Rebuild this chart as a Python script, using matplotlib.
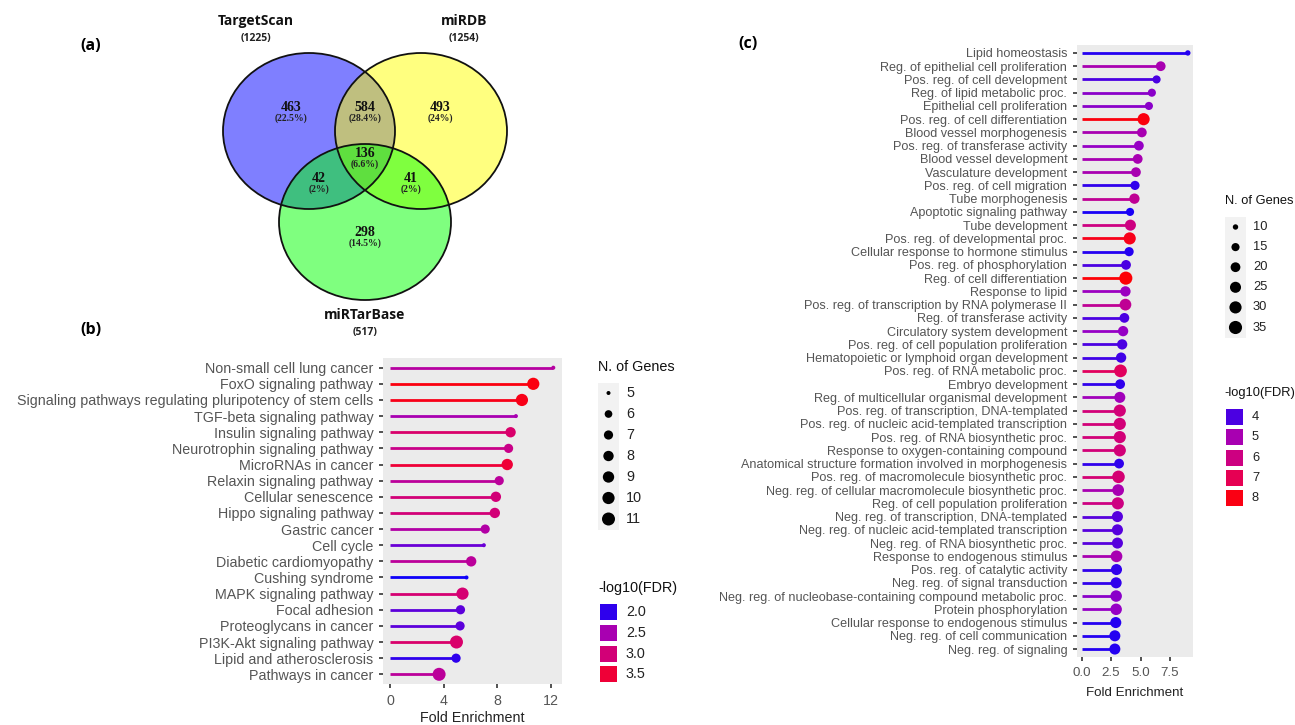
import numpy as np
import matplotlib
matplotlib.use("Agg")
import matplotlib.pyplot as plt
from matplotlib.colors import LinearSegmentedColormap, Normalize
from matplotlib.patches import Ellipse, Rectangle

plt.rcParams["font.family"] = ["Liberation Sans", "DejaVu Sans"]

# ---- data: (a) Venn --------------------------------------------------------
venn_sets = ["TargetScan", "miRDB", "miRTarBase"]
venn_totals = [1225, 1254, 517]
# regions: TS only, TS&DB, DB only, all, TS&TB, DB&TB, TB only
venn_counts = [463, 584, 493, 136, 42, 41, 298]
venn_pct = ["22.5%", "28.4%", "24%", "6.6%", "2%", "2%", "14.5%"]

# ---- data: (b) KEGG pathways -----------------------------------------------
kegg_terms = [
    "Non-small cell lung cancer", "FoxO signaling pathway",
    "Signaling pathways regulating pluripotency of stem cells",
    "TGF-beta signaling pathway", "Insulin signaling pathway",
    "Neurotrophin signaling pathway", "MicroRNAs in cancer",
    "Relaxin signaling pathway", "Cellular senescence", "Hippo signaling pathway",
    "Gastric cancer", "Cell cycle", "Diabetic cardiomyopathy", "Cushing syndrome",
    "MAPK signaling pathway", "Focal adhesion", "Proteoglycans in cancer",
    "PI3K-Akt signaling pathway", "Lipid and atherosclerosis", "Pathways in cancer",
]
kegg_fold = [12.2, 10.7, 9.85, 9.4, 9.0, 8.85, 8.75, 8.15, 7.9, 7.82,
             7.1, 7.0, 6.05, 5.7, 5.4, 5.25, 5.22, 4.95, 4.92, 3.65]
kegg_genes = [5, 10, 10, 5, 8, 7, 9, 7, 8, 8, 7, 5, 8, 5, 10, 7, 7, 11, 7, 11]
kegg_fdr = [2.65, 3.75, 3.7, 2.5, 3.1, 2.85, 3.5, 2.7, 3.0, 3.0,
            2.6, 2.2, 2.7, 1.9, 3.05, 2.15, 2.15, 3.1, 2.0, 2.7]

# ---- data: (c) GO biological process ---------------------------------------
go_terms = [
    "Lipid homeostasis", "Reg. of epithelial cell proliferation",
    "Pos. reg. of cell development", "Reg. of lipid metabolic proc.",
    "Epithelial cell proliferation", "Pos. reg. of cell differentiation",
    "Blood vessel morphogenesis", "Pos. reg. of transferase activity",
    "Blood vessel development", "Vasculature development",
    "Pos. reg. of cell migration", "Tube morphogenesis",
    "Apoptotic signaling pathway", "Tube development",
    "Pos. reg. of developmental proc.", "Cellular response to hormone stimulus",
    "Pos. reg. of phosphorylation", "Reg. of cell differentiation",
    "Response to lipid", "Pos. reg. of transcription by RNA polymerase II",
    "Reg. of transferase activity", "Circulatory system development",
    "Pos. reg. of cell population proliferation",
    "Hematopoietic or lymphoid organ development",
    "Pos. reg. of RNA metabolic proc.", "Embryo development",
    "Reg. of multicellular organismal development",
    "Pos. reg. of transcription, DNA-templated",
    "Pos. reg. of nucleic acid-templated transcription",
    "Pos. reg. of RNA biosynthetic proc.", "Response to oxygen-containing compound",
    "Anatomical structure formation involved in morphogenesis",
    "Pos. reg. of macromolecule biosynthetic proc.",
    "Neg. reg. of cellular macromolecule biosynthetic proc.",
    "Reg. of cell population proliferation", "Neg. reg. of transcription, DNA-templated",
    "Neg. reg. of nucleic acid-templated transcription",
    "Neg. reg. of RNA biosynthetic proc.", "Response to endogenous stimulus",
    "Pos. reg. of catalytic activity", "Neg. reg. of signal transduction",
    "Neg. reg. of nucleobase-containing compound metabolic proc.",
    "Protein phosphorylation", "Cellular response to endogenous stimulus",
    "Neg. reg. of cell communication", "Neg. reg. of signaling",
]
go_fold = [9.0, 6.7, 6.35, 5.95, 5.7, 5.25, 5.1, 4.85, 4.75, 4.6,
           4.52, 4.47, 4.1, 4.13, 4.07, 4.02, 3.76, 3.74, 3.71, 3.71,
           3.62, 3.51, 3.43, 3.34, 3.29, 3.26, 3.23, 3.23, 3.23, 3.23,
           3.23, 3.17, 3.12, 3.09, 3.06, 3.03, 3.03, 3.03, 2.95, 2.95,
           2.92, 2.92, 2.92, 2.89, 2.81, 2.81]
go_genes = [10, 20, 15, 15, 15, 30, 20, 20, 20, 20,
            18, 22, 15, 25, 30, 18, 20, 35, 22, 28,
            20, 22, 22, 22, 33, 20, 25, 30, 30, 30,
            30, 20, 32, 28, 30, 25, 25, 25, 28, 25,
            25, 27, 27, 25, 25, 25]
go_fdr = [3.7, 5.0, 4.0, 4.5, 4.5, 8.1, 5.0, 4.6, 5.0, 5.0,
          3.8, 5.6, 3.6, 6.0, 7.9, 3.7, 4.0, 8.2, 4.7, 5.6,
          4.0, 4.6, 4.0, 3.9, 6.8, 3.8, 4.8, 6.2, 6.2, 6.2,
          6.2, 3.8, 6.3, 5.0, 6.0, 4.1, 4.1, 4.1, 5.0, 3.8,
          3.8, 4.5, 4.6, 3.7, 3.7, 3.7]

# blue -> red as ggplot's gradient (Lab interpolation, sampled)
cmap = LinearSegmentedColormap.from_list(
    "bluered", ["#0000FF", "#9A00C3", "#C90088", "#E80050", "#FF0000"])

fig = plt.figure(figsize=(12.95, 7.25), dpi=100)
ov = fig.add_axes([0, 0, 1, 1])
ov.set_xlim(0, 1295)
ov.set_ylim(725, 0)
ov.axis("off")


def dot_size(n, nmin, nmax, dmin, dmax):
    n = np.clip(np.asarray(n, dtype=float), nmin, nmax)
    d = dmin + (dmax - dmin) * np.sqrt((n - nmin) / (nmax - nmin))
    return (d * 0.72) ** 2


def lollipop(rect, terms, fold, genes, fdr, norm, sz, xlim, xticks, xlabels, fs, xfs, lpad):
    ax = fig.add_axes(rect)
    y = np.arange(len(terms))[::-1]
    cols = cmap(norm(np.asarray(fdr)))
    ax.hlines(y, 0, fold, colors=cols, lw=2, zorder=2)
    ax.scatter(fold, y, s=dot_size(genes, *sz), c=cols, linewidths=0, zorder=3)
    ax.set_facecolor("#EBEBEB")
    for s in ax.spines.values():
        s.set_visible(False)
    ax.set_yticks(y, terms)
    ax.set_ylim(-0.6, len(terms) - 0.4)
    ax.set_xlim(*xlim)
    ax.set_xticks(xticks, xlabels)
    ax.tick_params(length=3, width=1.2, color="#333333", labelcolor="#555555",
                   labelsize=fs, pad=4)
    ax.tick_params(axis="x", labelsize=xfs, pad=4)
    ax.set_xlabel("Fold Enrichment", fontsize=xfs, color="#222222", labelpad=lpad)
    return ax


# ---- (b) -------------------------------------------------------------------
norm_b = Normalize(1.85, 3.85)
sz_b = (5, 11, 4, 13)
lollipop([383 / 1295, 1 - 684 / 725, 179 / 1295, 326 / 725],
         kegg_terms, kegg_fold, kegg_genes, kegg_fdr, norm_b, sz_b,
         (-0.55, 12.85), [0, 4, 8, 12], ["0", "4", "8", "12"], 10.3, 10.3, 2)

# ---- (c) -------------------------------------------------------------------
norm_c = Normalize(3.4, 8.3)
sz_c = (9, 37, 3.5, 13.5)
lollipop([1077 / 1295, 1 - 657 / 725, 116 / 1295, 612 / 725],
         go_terms, go_fold, go_genes, go_fdr, norm_c, sz_c,
         (-0.4, 9.44), [0, 2.5, 5, 7.5], ["0.0", "2.5", "5.0", "7.5"], 9.1, 9.6, 6)


# ---- legends (drawn in pixel space) -----------------------------------------
def size_legend(x, y0, step, levels, sz, fs):
    ov.text(x, y0 - 26, "N. of Genes", fontsize=fs, va="center", ha="left", color="#111111")
    ov.add_patch(Rectangle((x, y0 - step / 2), 21, step * len(levels),
                           facecolor="#F2F2F2", edgecolor="none"))
    ys = y0 + step * np.arange(len(levels))
    ov.scatter(np.full(len(levels), x + 10.5), ys, s=dot_size(levels, *sz),
               c="black", linewidths=0)
    for yy, lv in zip(ys, levels):
        ov.text(x + 28, yy, str(lv), fontsize=fs, va="center", ha="left", color="#222222")


def color_legend(x, y0, step, levels, labels, norm, fs):
    ov.text(x, y0 - 24, "-log10(FDR)", fontsize=fs, va="center", ha="left", color="#111111")
    for i, (lv, lab) in enumerate(zip(levels, labels)):
        yy = y0 + i * step
        ov.add_patch(Rectangle((x + 2, yy - 8), 17, 16, facecolor=cmap(norm(lv)),
                               edgecolor="none"))
        ov.text(x + 28, yy, lab, fontsize=fs, va="center", ha="left", color="#222222")


size_legend(598, 393, 21, [5, 6, 7, 8, 9, 10, 11], sz_b, 10.4)
color_legend(598, 612, 20.8, [2.0, 2.5, 3.0, 3.5], ["2.0", "2.5", "3.0", "3.5"], norm_b, 10.4)
size_legend(1225, 227, 20.1, [10, 15, 20, 25, 30, 35], sz_c, 9.3)
color_legend(1224, 417, 20.3, [4, 5, 6, 7, 8], ["4", "5", "6", "7", "8"], norm_c, 9.3)

# ---- (a) Venn ----------------------------------------------------------------
circles = [((309, 131), "#0000FF"), ((421, 131), "#FFFF00"), ((365, 222), "#00FF00")]
for (cx, cy), col in circles:
    ov.add_patch(Ellipse((cx, cy), 172, 156, facecolor=col, alpha=0.5, edgecolor="none"))
for (cx, cy), col in circles:
    ov.add_patch(Ellipse((cx, cy), 172, 156, facecolor="none", edgecolor="#111111", lw=1.3))

region_xy = [(291, 107), (365, 107), (440, 107), (365, 153), (319, 178), (411, 178), (365, 232)]
for (rx, ry), n, p in zip(region_xy, venn_counts, venn_pct):
    ov.text(rx, ry, str(n), fontsize=10, fontweight="bold", family="Liberation Serif",
            ha="center", va="center", color="#111111")
    ov.text(rx, ry + 11, f"({p})", fontsize=7, fontweight="bold", family="Liberation Serif",
            ha="center", va="center", color="#222222")

set_xy = [(256, 21), (464, 21), (365, 315)]
for (sx, sy), name, tot in zip(set_xy, venn_sets, venn_totals):
    ov.text(sx, sy, name, fontsize=10, fontweight="bold", family="Open Sans",
            ha="center", va="center", color="#111111")
    ov.text(sx, sy + 17, f"({tot})", fontsize=7.5, fontweight="bold", family="Open Sans",
            ha="center", va="center", color="#222222")

for lab, (px, py) in zip(["(a)", "(b)", "(c)"], [(91, 46), (91, 330), (748, 44)]):
    ov.text(px, py, lab, fontsize=11.5, fontweight="bold", family="Open Sans",
            ha="center", va="center", color="black")

fig.savefig("out.png", dpi=100)
